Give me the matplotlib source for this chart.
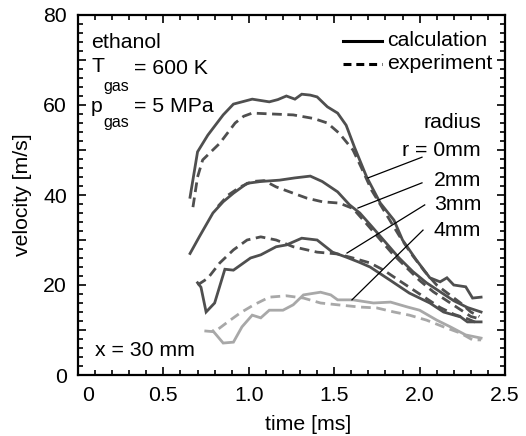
import matplotlib
matplotlib.use("Agg")
import matplotlib.pyplot as plt
from matplotlib.ticker import MultipleLocator
import matplotlib.transforms as mtransforms

plt.rcParams['font.family'] = ['Liberation Sans', 'DejaVu Sans']

# ---- data (time [ms], velocity [m/s]) ----
t_r0_calc = [0.656, 0.70, 0.76, 0.85, 0.91, 0.97, 1.02, 1.07, 1.12, 1.17, 1.22, 1.27, 1.31, 1.36, 1.40,
             1.46, 1.52, 1.57, 1.62, 1.69, 1.77, 1.85, 1.90, 1.98, 2.06, 2.12, 2.16, 2.20, 2.27, 2.31, 2.36]
v_r0_calc = [39.5, 49.6, 53.3, 57.8, 60.2, 60.8, 61.3, 61.0, 60.7, 61.2, 62.0, 61.3, 62.4, 62.2, 61.8,
             59.6, 58.2, 55.5, 50.5, 44.0, 38.2, 34.4, 30.0, 25.6, 21.6, 20.7, 21.6, 20.0, 19.6, 17.1, 17.3]

t_r0_exp = [0.673, 0.70, 0.73, 0.83, 0.92, 0.97, 1.02, 1.14, 1.26, 1.38, 1.46, 1.53, 1.61, 1.66,
            1.72, 1.80, 1.88, 1.95, 2.03, 2.10, 2.17, 2.24, 2.30, 2.35]
v_r0_exp = [37.3, 44.0, 47.8, 51.5, 56.0, 57.5, 58.2, 58.0, 57.8, 57.0, 56.0, 53.7, 50.0, 46.0,
            41.0, 36.0, 31.0, 27.0, 23.0, 20.0, 18.0, 16.0, 14.0, 13.0]

t_r2_calc = [0.656, 0.71, 0.79, 0.85, 0.91, 0.99, 1.07, 1.18, 1.27, 1.36, 1.43, 1.52, 1.59, 1.65,
             1.72, 1.80, 1.88, 1.96, 2.04, 2.12, 2.20, 2.28, 2.36]
v_r2_calc = [27.0, 30.7, 36.0, 38.5, 40.4, 42.6, 43.0, 43.3, 43.8, 44.2, 43.0, 40.7, 37.8, 36.0,
             33.0, 29.5, 26.0, 23.0, 20.5, 18.5, 16.5, 15.0, 14.0]

t_r2_exp = [0.82, 0.88, 0.95, 1.02, 1.09, 1.16, 1.26, 1.34, 1.43, 1.53, 1.61, 1.68, 1.76, 1.84,
            1.92, 2.00, 2.08, 2.16, 2.24, 2.30, 2.35]
v_r2_exp = [37.5, 40.0, 41.8, 43.0, 43.2, 41.8, 40.4, 39.3, 38.5, 38.2, 37.0, 34.0, 30.5, 27.0,
            24.0, 21.0, 18.5, 16.5, 14.5, 13.0, 12.5]

t_r3_calc = [0.70, 0.72, 0.75, 0.80, 0.86, 0.91, 1.01, 1.07, 1.16, 1.22, 1.31, 1.40, 1.49, 1.57,
             1.65, 1.71, 1.83, 1.94, 2.06, 2.14, 2.24, 2.28, 2.36]
v_r3_calc = [20.5, 19.5, 14.0, 16.0, 23.5, 23.3, 26.0, 26.7, 28.5, 28.9, 30.4, 30.0, 27.3, 26.2,
             25.0, 24.0, 21.0, 18.2, 16.0, 14.0, 12.9, 11.8, 11.8]

t_r3_exp = [0.70, 0.76, 0.83, 0.91, 0.99, 1.07, 1.16, 1.26, 1.40, 1.52, 1.61, 1.71, 1.79, 1.88,
            1.96, 2.04, 2.12, 2.20, 2.28, 2.34]
v_r3_exp = [20.0, 21.5, 24.9, 27.8, 30.0, 30.7, 30.0, 28.5, 27.3, 26.9, 26.0, 24.9, 23.3, 21.0,
            19.0, 17.0, 15.0, 13.5, 12.5, 11.5]

t_r4_calc = [0.79, 0.85, 0.91, 0.96, 1.02, 1.07, 1.12, 1.20, 1.26, 1.32, 1.42, 1.48, 1.52, 1.61,
             1.73, 1.83, 1.93, 2.00, 2.10, 2.18, 2.27, 2.36]
v_r4_calc = [9.8, 7.1, 7.3, 10.7, 13.3, 12.7, 14.4, 14.4, 15.6, 17.8, 18.4, 17.8, 16.7, 16.7,
             16.0, 16.2, 15.1, 14.4, 12.2, 10.7, 8.9, 8.2]

t_r4_exp = [0.74, 0.80, 0.87, 0.95, 1.03, 1.12, 1.22, 1.32, 1.42, 1.52, 1.65, 1.75, 1.85, 1.94,
            2.04, 2.14, 2.24, 2.31, 2.36]
v_r4_exp = [9.8, 9.6, 11.6, 13.8, 15.6, 17.3, 17.6, 17.1, 16.0, 15.6, 15.1, 14.9, 14.0, 13.3,
            12.2, 10.7, 9.3, 7.8, 7.8]

radius_labels = ["r = 0mm", "2mm", "3mm", "4mm"]
label_pos = [(2.36, 50.0), (2.36, 43.3), (2.36, 37.8), (2.36, 32.2)]
leader_from = [(2.014, 48.4), (2.014, 42.7), (2.03, 37.8), (2.02, 32.2)]
leader_to = [(1.698, 43.8), (1.639, 37.1), (1.575, 27.1), (1.604, 16.7)]

dark = '#4f4f4f'
light = '#a8a8a8'
lw = 2.0
dash = (3.5, 2.0)
FS = 15.3
W, H = 526, 436

fig = plt.figure(figsize=(W/100, H/100), dpi=100)
ax = fig.add_axes([78/W, 1 - 375/H, (505 - 78)/W, (375 - 15)/H])

series = [
    (t_r0_calc, v_r0_calc, dark, '-'), (t_r0_exp, v_r0_exp, dark, '--'),
    (t_r2_calc, v_r2_calc, dark, '-'), (t_r2_exp, v_r2_exp, dark, '--'),
    (t_r3_calc, v_r3_calc, dark, '-'), (t_r3_exp, v_r3_exp, dark, '--'),
    (t_r4_calc, v_r4_calc, light, '-'), (t_r4_exp, v_r4_exp, light, '--'),
]
for t, v, c, ls in series:
    line, = ax.plot(t, v, color=c, lw=lw, ls=ls, solid_joinstyle='miter')
    if ls == '--':
        line.set_dashes(dash)

# leader lines and labels
for (x0, y0), (x1, y1) in zip(leader_from, leader_to):
    ax.plot([x0, x1], [y0, y1], color='black', lw=0.9)
for lab, (x, y) in zip(radius_labels, label_pos):
    ax.text(x, y, lab, ha='right', va='center', fontsize=FS)
ax.text(2.36, 56.0, "radius", ha='right', va='center', fontsize=FS)

# legend (drawn manually)
ax.plot([1.55, 1.78], [74.3, 74.3], color='black', lw=2.2)
ax.text(1.81, 74.3, "calculation", ha='left', va='center', fontsize=FS)
l2, = ax.plot([1.55, 1.78], [69.2, 69.2], color='black', lw=2.2)
l2.set_dashes((2.6, 1.6))
ax.text(1.81, 69.2, "experiment", ha='left', va='center', fontsize=FS)


def ftext(px, py, s, size=FS, **kw):
    fig.text(px / W, 1 - py / H, s, fontsize=size, va='center', ha='left', **kw)


# annotations (pixel positions)
ftext(91, 43, "ethanol")
ftext(91, 67, "T")
ftext(103, 86, "gas", size=11.5)
ftext(134, 69, "= 600 K")
ftext(91, 106, "p")
ftext(103, 122, "gas", size=11.5)
ftext(134, 107, "= 5 MPa")
ftext(95, 350, "x = 30 mm")

ax.set_xlim(0, 2.5)
ax.set_ylim(0, 80)
ax.xaxis.set_minor_locator(MultipleLocator(0.1))
ax.yaxis.set_minor_locator(MultipleLocator(2))
ax.set_xticks([0, 0.5, 1.0, 1.5, 2.0, 2.5])
ax.set_xticklabels(["0", "0.5", "1.0", "1.5", "2.0", "2.5"])
ax.set_yticks([0, 10, 20, 30, 40, 50, 60, 70, 80])
ax.set_yticklabels(["0", "", "20", "", "40", "", "60", "", "80"])
ax.tick_params(which='both', direction='in', top=True, right=True, labelsize=FS, width=1.2)
ax.tick_params(which='major', length=6, pad=8)
ax.tick_params(which='minor', length=3.5)
for s in ax.spines.values():
    s.set_linewidth(1.6)

# shift the "0" x tick label slightly right, as in the reference
lbl0 = ax.get_xticklabels()[0]
lbl0.set_transform(lbl0.get_transform() + mtransforms.ScaledTranslation(10/100, 0, fig.dpi_scale_trans))

ax.set_xlabel("time [ms]", fontsize=FS)
ax.xaxis.set_label_coords(0.54, -0.11)
ax.set_ylabel("velocity [m/s]", fontsize=FS, labelpad=8)

fig.savefig("out.png", dpi=100)
